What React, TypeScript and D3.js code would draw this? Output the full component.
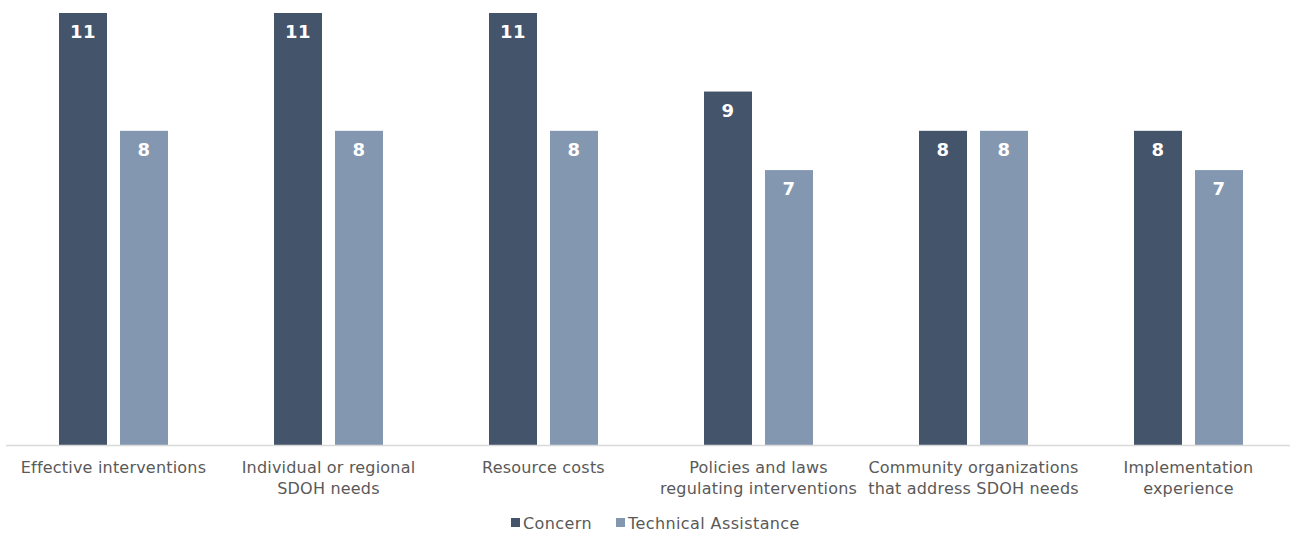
import React from "react";
import * as d3 from "d3";

const categories: string[][] = [
  ["Effective interventions"],
  ["Individual or regional", "SDOH needs"],
  ["Resource costs"],
  ["Policies and laws", "regulating interventions"],
  ["Community organizations", "that address SDOH needs"],
  ["Implementation", "experience"],
];
const concern = [11, 11, 11, 9, 8, 8];
const technicalAssistance = [8, 8, 8, 7, 8, 7];
const seriesNames = ["Concern", "Technical Assistance"];
const colors = ["#44546A", "#8497B0"];

const W = 1291;
const H = 534;
const FONT = "'DejaVu Sans', Verdana, sans-serif";

export default function App() {
  const x0 = d3
    .scaleBand<number>()
    .domain(categories.map((_, i) => i))
    .range([6, 1296])
    .paddingInner(0)
    .paddingOuter(0);
  const step = x0.bandwidth();
  const barW = 48;
  const gap = 13;
  const x1 = d3
    .scaleOrdinal<number, number>()
    .domain([0, 1])
    .range([step / 2 - barW - gap / 2, step / 2 + gap / 2]);
  const y = d3.scaleLinear().domain([0, 11]).range([445, 13]);
  const series = [concern, technicalAssistance];

  return (
    <svg width={W} height={H} style={{ position: "absolute", left: 0, top: 0, background: "#fff" }}>
      <rect x={0} y={0} width={W} height={H} fill="#fff" />
      {series.map((vals, s) =>
        vals.map((v, i) => {
          const bx = (x0(i) as number) + x1(s);
          const by = y(v);
          return (
            <g key={`${s}-${i}`}>
              <rect x={bx} y={by} width={barW} height={y(0) - by} fill={colors[s]} />
              <text
                x={bx + barW / 2}
                y={by + 25}
                textAnchor="middle"
                fill="#fff"
                fontFamily={FONT}
                fontWeight="bold"
                fontSize={18}
                letterSpacing={0.5}
              >
                {v}
              </text>
            </g>
          );
        })
      )}
      <line x1={6} x2={1290} y1={y(0) + 0.5} y2={y(0) + 0.5} stroke="#D9D9D9" strokeWidth={1.5} />
      {categories.map((lines, i) => (
        <text
          key={i}
          x={(x0(i) as number) + step / 2}
          y={473}
          textAnchor="middle"
          fill="#595959"
          fontFamily={FONT}
          fontSize={16}
          letterSpacing={0.2}
        >
          {lines.map((l, j) => (
            <tspan key={j} x={(x0(i) as number) + step / 2} dy={j === 0 ? 0 : 21}>
              {l}
            </tspan>
          ))}
        </text>
      ))}
      <g fontFamily={FONT} fontSize={16} fill="#595959" letterSpacing={0.4}>
        <rect x={511} y={518} width={9} height={9} fill={colors[0]} />
        <text x={523} y={529}>{seriesNames[0]}</text>
        <rect x={616} y={518} width={9} height={9} fill={colors[1]} />
        <text x={628} y={529}>{seriesNames[1]}</text>
      </g>
    </svg>
  );
}
